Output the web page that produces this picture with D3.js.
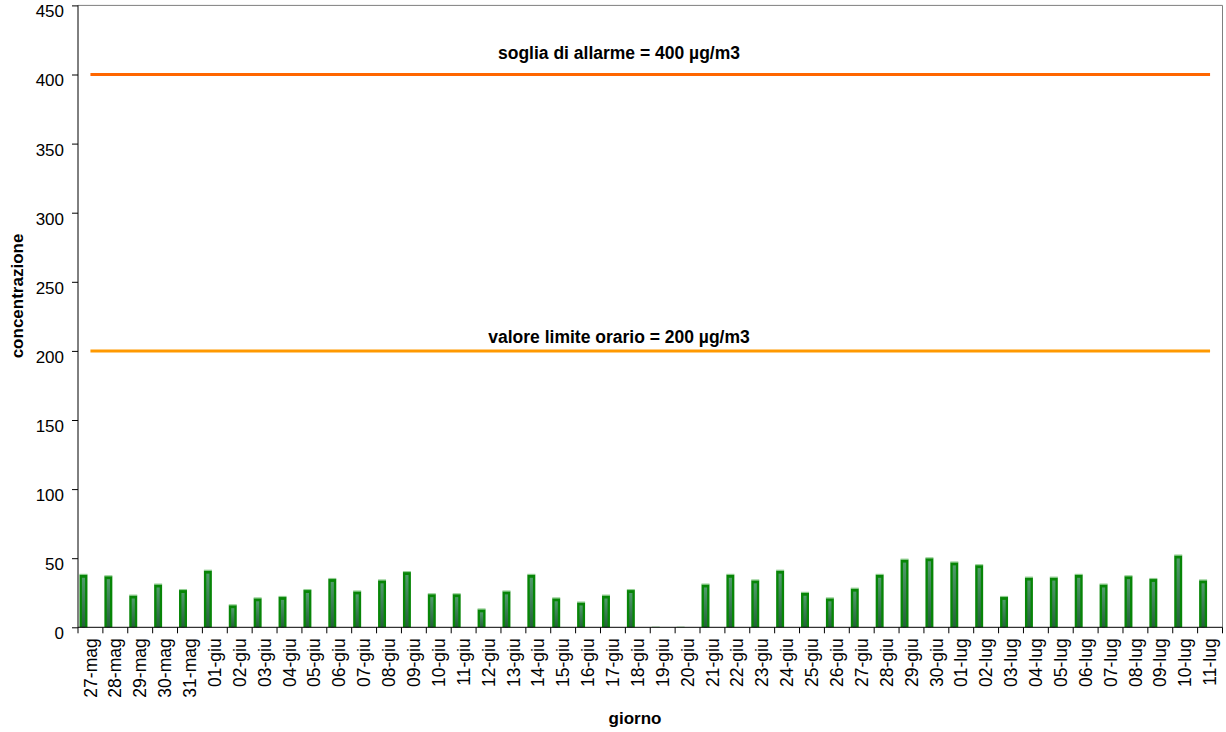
<!DOCTYPE html>
<html>
<head>
<meta charset="utf-8">
<script src="https://cdn.jsdelivr.net/npm/d3@7"></script>
<style>
  body { margin: 0; background: #fff; }
  svg { display: block; font-family: "Liberation Sans", Arial, sans-serif; }
</style>
</head>
<body>
<div id="chart"></div>
<script>
// giorni (27 maggio - 11 luglio)
const giorni = [
  "27-mag", "28-mag", "29-mag", "30-mag", "31-mag",
  "01-giu", "02-giu", "03-giu", "04-giu", "05-giu", "06-giu", "07-giu", "08-giu", "09-giu", "10-giu",
  "11-giu", "12-giu", "13-giu", "14-giu", "15-giu", "16-giu", "17-giu", "18-giu", "19-giu", "20-giu",
  "21-giu", "22-giu", "23-giu", "24-giu", "25-giu", "26-giu", "27-giu", "28-giu", "29-giu", "30-giu",
  "01-lug", "02-lug", "03-lug", "04-lug", "05-lug", "06-lug", "07-lug", "08-lug", "09-lug", "10-lug", "11-lug"
];

// concentrazione massima oraria (µg/m3)
const concentrazione = [
  38, 37, 23, 31, 27,
  41, 16, 21, 22, 27, 35, 26, 34, 40, 24,
  24, 13, 26, 38, 21, 18, 23, 27, 0, 0,
  31, 38, 34, 41, 25, 21, 28, 38, 49, 50,
  47, 45, 22, 36, 36, 38, 31, 37, 35, 52, 34
];

const yTicks = [0, 50, 100, 150, 200, 250, 300, 350, 400, 450];

// soglie
const soglie = [
  { valore: 400, testo: "soglia di allarme = 400 µg/m3", colore: "#ff6600", dy: -16 },
  { valore: 200, testo: "valore limite orario = 200 µg/m3", colore: "#ff9900", dy: -8 }
];

const W = 1226, H = 732;
const pLeft = 78, pRight = 1222.5, pTop = 5.4, pBottom = 627.3;

const svg = d3.select("#chart").append("svg")
  .attr("width", W)
  .attr("height", H);

const defs = svg.append("defs");
const grad = defs.append("linearGradient")
  .attr("id", "stripe")
  .attr("x1", 0).attr("y1", 0).attr("x2", 0).attr("y2", 1);
grad.append("stop").attr("offset", "0%").attr("stop-color", "#4f9b6a");
grad.append("stop").attr("offset", "100%").attr("stop-color", "#245f3a");

// scales
const x = d3.scaleBand()
  .domain(giorni)
  .range([pLeft, pRight])
  .padding(0);

const y = d3.scaleLinear()
  .domain([0, 450])
  .range([pBottom, pTop]);

// plot area border (top / right)
svg.append("path")
  .attr("d", `M${pLeft},${pTop}H${pRight}V${pBottom}`)
  .attr("fill", "none")
  .attr("stroke", "#7f7f7f")
  .attr("stroke-width", 1);

// bars
const bw = x.bandwidth() * 0.32;
const bars = svg.append("g").selectAll("g")
  .data(concentrazione)
  .enter()
  .append("g");

bars.append("rect")
  .attr("x", (d, i) => x(giorni[i]) + 1.5)
  .attr("y", d => y(d))
  .attr("width", bw)
  .attr("height", d => pBottom - y(d))
  .attr("fill", "#078507");

bars.append("rect")
  .attr("x", (d, i) => x(giorni[i]) + 1.5 + bw * 0.3)
  .attr("y", d => Math.min(y(d) + 3, pBottom))
  .attr("width", bw * 0.4)
  .attr("height", d => Math.max(pBottom - y(d) - 3, 0))
  .attr("fill", "url(#stripe)");

bars.append("rect")
  .attr("x", (d, i) => x(giorni[i]) + 1.5)
  .attr("y", d => y(d) - 1)
  .attr("width", bw)
  .attr("height", 1.2)
  .attr("fill", "#7cc47c")
  .attr("opacity", d => d > 0 ? 0.8 : 0.5);

// threshold lines
const xFirst = x(giorni[0]) + x.bandwidth() / 2;
const xLast = x(giorni[giorni.length - 1]) + x.bandwidth() / 2;

svg.append("g").selectAll("line")
  .data(soglie)
  .enter()
  .append("line")
  .attr("x1", xFirst)
  .attr("x2", xLast)
  .attr("y1", d => y(d.valore))
  .attr("y2", d => y(d.valore))
  .attr("stroke", d => d.colore)
  .attr("stroke-width", 3);

svg.append("g").selectAll("text")
  .data(soglie)
  .enter()
  .append("text")
  .attr("x", 619)
  .attr("y", d => y(d.valore) + d.dy)
  .attr("text-anchor", "middle")
  .attr("font-size", "17.5px")
  .attr("font-weight", "bold")
  .attr("fill", "#000")
  .text(d => d.testo);

// y axis
const yAxis = svg.append("g")
  .attr("transform", `translate(${pLeft},0)`)
  .call(d3.axisLeft(y).tickValues(yTicks).tickSize(6).tickPadding(8).tickFormat(d3.format("d")));
yAxis.select(".domain").attr("stroke", "#000").attr("d", `M0,${pTop}V${pBottom}`);
yAxis.selectAll(".tick line").attr("stroke", "#000");
yAxis.selectAll(".tick text")
  .attr("font-size", "17px")
  .attr("font-family", "Liberation Sans, Arial, sans-serif")
  .attr("fill", "#000")
  .attr("y", 6);

// x axis
const xAxis = svg.append("g")
  .attr("transform", `translate(0,${pBottom})`)
  .call(d3.axisBottom(x).tickSize(0).tickPadding(0));
xAxis.select(".domain").attr("stroke", "#000").attr("d", `M${pLeft},0H${pRight}`);
xAxis.selectAll(".tick text")
  .attr("font-size", "17.5px")
  .attr("font-family", "Liberation Sans, Arial, sans-serif")
  .attr("fill", "#000")
  .attr("text-anchor", "end")
  .attr("transform", "rotate(-90)")
  .attr("x", -11)
  .attr("y", 0)
  .attr("dy", "0.35em");

// boundary ticks between days
const edges = giorni.map(g => x(g)).concat([pRight]);
xAxis.append("g").selectAll("line")
  .data(edges)
  .enter()
  .append("line")
  .attr("x1", d => d)
  .attr("x2", d => d)
  .attr("y1", 0)
  .attr("y2", 6)
  .attr("stroke", "#000");

// axis titles
svg.append("text")
  .attr("transform", "translate(23,296) rotate(-90)")
  .attr("text-anchor", "middle")
  .attr("font-size", "17px")
  .attr("font-weight", "bold")
  .text("concentrazione");

svg.append("text")
  .attr("x", 635)
  .attr("y", 724)
  .attr("text-anchor", "middle")
  .attr("font-size", "17px")
  .attr("font-weight", "bold")
  .text("giorno");
</script>
</body>
</html>
